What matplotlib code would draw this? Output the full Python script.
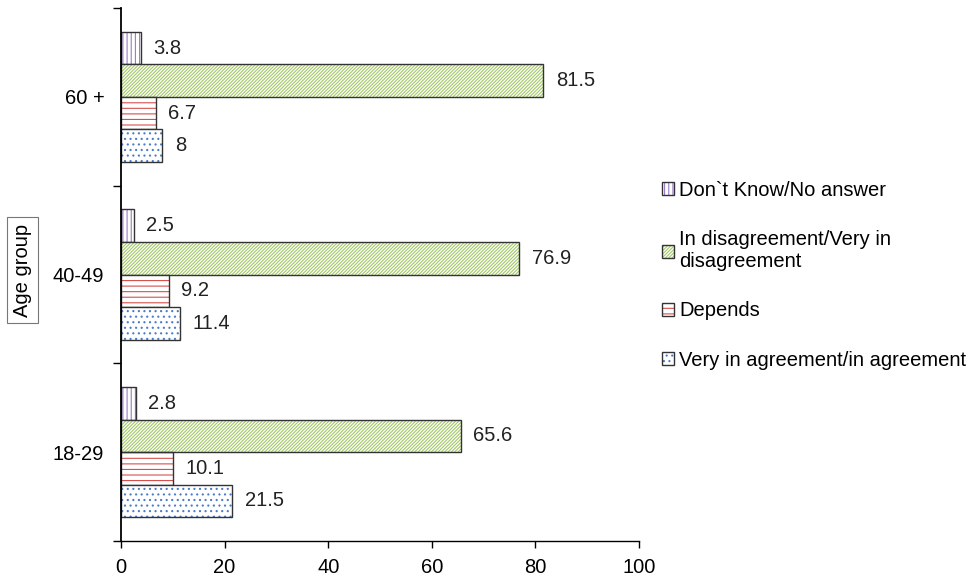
import matplotlib
matplotlib.use("Agg")
import matplotlib.pyplot as plt
from matplotlib.patches import Patch
import numpy as np

plt.rcParams['font.family'] = ['Liberation Sans', 'DejaVu Sans']
plt.rcParams['hatch.linewidth'] = 0.8

# survey answers by age group (percent)
age_groups = ["18-29", "40-49", "60 +"]
answers = ["Don`t Know/No answer",
           "In disagreement/Very in\ndisagreement",
           "Depends",
           "Very in agreement/in agreement"]
dont_know = [2.8, 2.5, 3.8]
disagree = [65.6, 76.9, 81.5]
depends = [10.1, 9.2, 6.7]
agree = [21.5, 11.4, 8]

series = [dont_know, disagree, depends, agree]
colors = ["#9a7cc4", "#a2ca66", "#d65050", "#4a7cc8"]
hatches = ["||||", "//////////", "---", "..."]

fs = 14.5
fig = plt.figure(figsize=(9.69, 5.82), dpi=100)
ax = fig.add_axes([0.1249, 0.0704, 0.5345, 0.9159])

y = np.arange(len(age_groups))
h = 0.183
offsets = [1.5, 0.5, -0.5, -1.5]

handles = []
for vals, col, hat, off, lab in zip(series, colors, hatches, offsets, answers):
    pos = y + off * h
    ax.barh(pos, vals, height=h, color="white", hatch=hat, edgecolor=col, linewidth=0)
    ax.barh(pos, vals, height=h, fill=False, edgecolor="#333333", linewidth=1.0)
    for p, v in zip(pos, vals):
        ax.annotate(f"{v:g}", (v, p), xytext=(9, 0), textcoords="offset points",
                    va="center", ha="left", fontsize=fs, color="#222222")
    handles.append((Patch(facecolor="white", hatch=hat, edgecolor=col, linewidth=0),
                    Patch(fill=False, edgecolor="#333333", linewidth=1.0)))

ax.set_xlim(0, 100)
ax.set_ylim(-0.5, 2.5)
ax.set_xticks(np.arange(0, 101, 20))
ax.set_yticks([-0.5, 0.5, 1.5, 2.5])
ax.set_yticklabels([])
ax.set_yticks(y, minor=True)
ax.set_yticklabels(age_groups, minor=True)
ax.tick_params(axis="y", which="major", direction="out", length=6, width=1.0)
ax.tick_params(axis="y", which="minor", length=0, pad=12, labelsize=fs)
ax.tick_params(axis="x", direction="out", length=5, width=1.0, pad=7, labelsize=fs)
for s in ["top", "right"]:
    ax.spines[s].set_visible(False)
ax.spines["left"].set_linewidth(1.3)
ax.spines["bottom"].set_linewidth(1.0)

fig.text(0.023, 0.536, "Age group", rotation=90, ha="center", va="center", fontsize=fs,
         bbox=dict(boxstyle="square,pad=0.3", facecolor="white", edgecolor="#777777", linewidth=0.8))

fig.legend(handles, answers, loc="center left", bbox_to_anchor=(0.683, 0.527),
           frameon=False, fontsize=fs, handlelength=0.62, handleheight=0.62,
           handletextpad=0.25, labelspacing=1.5, borderpad=0, borderaxespad=0)

fig.savefig("out.png", dpi=100)
